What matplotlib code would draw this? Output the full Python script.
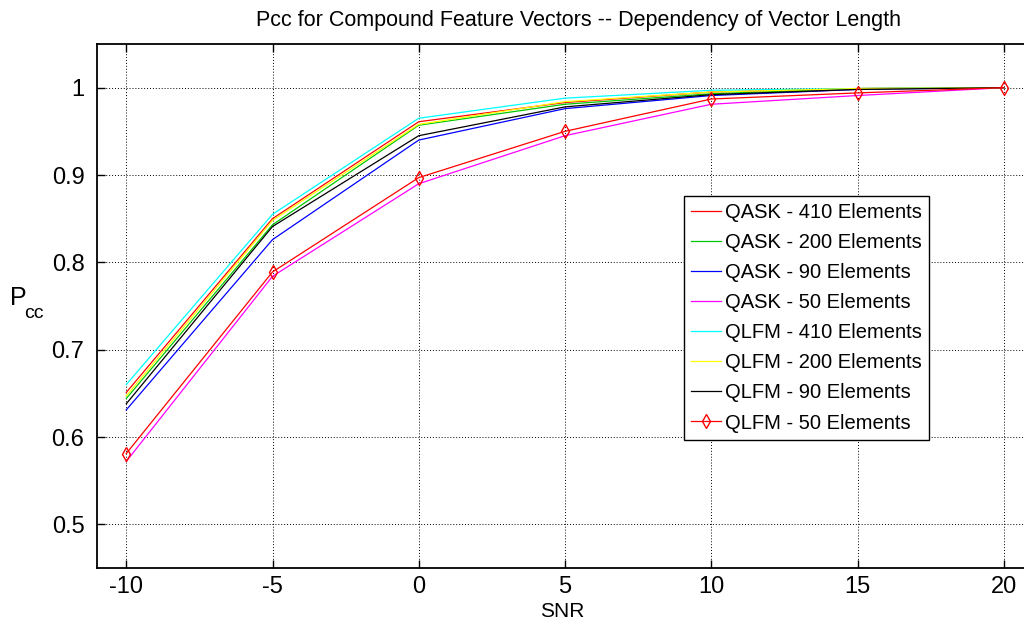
import matplotlib.pyplot as plt

plt.rcParams['font.family'] = ['Liberation Sans', 'DejaVu Sans']
plt.rcParams['axes.unicode_minus'] = False

snr = [-10, -5, 0, 5, 10, 15, 20]

# Pcc per SNR for each modulation / vector length
qask_410 = [0.651, 0.850, 0.961, 0.983, 0.995, 0.999, 1.0]
qask_200 = [0.644, 0.843, 0.957, 0.981, 0.993, 0.999, 1.0]
qask_90 = [0.631, 0.826, 0.940, 0.976, 0.991, 0.998, 1.0]
qask_50 = [0.572, 0.784, 0.890, 0.945, 0.981, 0.991, 1.0]
qlfm_410 = [0.660, 0.855, 0.965, 0.988, 0.997, 0.999, 1.0]
qlfm_200 = [0.647, 0.848, 0.958, 0.984, 0.995, 0.999, 1.0]
qlfm_90 = [0.638, 0.841, 0.945, 0.978, 0.992, 0.998, 1.0]
qlfm_50 = [0.581, 0.789, 0.897, 0.950, 0.987, 0.994, 1.0]

fig = plt.figure(figsize=(10.24, 6.25), dpi=100)
ax = fig.add_axes([97/1024, 57/625, 936/1024, 524/625])

lw = 0.9
ax.plot(snr, qask_410, color='#ff0000', lw=lw, label='QASK - 410 Elements')
ax.plot(snr, qask_200, color='#00c800', lw=lw, label='QASK - 200 Elements')
ax.plot(snr, qask_90, color='#0000ff', lw=lw, label='QASK - 90 Elements')
ax.plot(snr, qask_50, color='#ff00ff', lw=lw, label='QASK - 50 Elements')
ax.plot(snr, qlfm_410, color='#00ffff', lw=lw, label='QLFM - 410 Elements')
ax.plot(snr, qlfm_200, color='#ffff00', lw=lw, label='QLFM - 200 Elements')
ax.plot(snr, qlfm_90, color='#000000', lw=lw, label='QLFM - 90 Elements')
ax.plot(snr, qlfm_50, color='#ff0000', lw=lw, marker='d', ms=7, mfc='none',
        mew=1, label='QLFM - 50 Elements')

ax.set_xlim(-11, 21)
ax.set_ylim(0.45, 1.05)
ax.set_xticks([-10, -5, 0, 5, 10, 15, 20])
ax.set_yticks([0.5, 0.6, 0.7, 0.8, 0.9, 1.0])
ax.set_yticklabels(['0.5', '0.6', '0.7', '0.8', '0.9', '1'])

ax.grid(True, color='black', linestyle=(0, (1, 2)), linewidth=0.7)
ax.tick_params(direction='in', length=6, width=1, labelsize=17,
               top=True, right=True)
ax.tick_params(axis='y', pad=9)
ax.tick_params(axis='x', pad=6)
for s in ax.spines.values():
    s.set_linewidth(1.3)

ax.set_title('Pcc for Compound Feature Vectors -- Dependency of Vector Length',
             fontsize=15.5, pad=13, x=0.514)
ax.set_xlabel('SNR', fontsize=15, labelpad=0)
ax.xaxis.set_label_coords(0.497, -0.065)

# P with a lowered "cc" subscript beside the y axis
fig.text(10/1024, 1 - 298/625, 'P', fontsize=18, va='center', ha='left')
fig.text(24/1024, 1 - 314/625, 'cc', fontsize=14, va='center', ha='left')

leg = ax.legend(loc='upper left', bbox_to_anchor=(0.627, 0.710), fontsize=14.5,
                fancybox=False, framealpha=1, edgecolor='black',
                handlelength=1.5, handletextpad=0.2, labelspacing=0.55,
                borderpad=0.35, borderaxespad=0)
leg.get_frame().set_linewidth(1.0)

fig.savefig('out.png', dpi=100)
